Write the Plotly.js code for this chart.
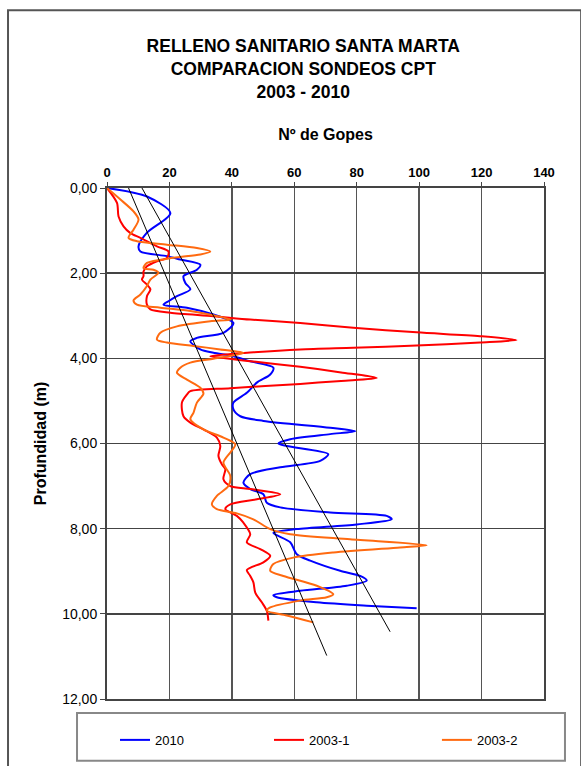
<!DOCTYPE html>
<html>
<head>
<meta charset="utf-8">
<script src="https://cdn.plot.ly/plotly-3.0.1.min.js"></script>
<style>html,body{margin:0;padding:0;background:#fff;}#chart{width:581px;height:766px;}</style>
</head>
<body>
<div id="chart"></div>
<script>
// Series: 2010 (golpes vs depth)
const blueGolpes = [0,12.8,20.3,12.8,10.1,10.7,19.2,23.5,29.9,28.8,24.5,25.1,26.7,22.4,19.7,18.1,25.6,34.1,40.5,37.3,28.8,26.7,29.9,34.1,40.5,45.9,53.3,52.3,48,44.8,40.5,40.5,42.7,50.1,71.5,79.5,71.5,58.7,54.9,57.6,70.9,68.3,55.5,45.9,43.7,45.9,50.1,51.2,55.5,71.5,89.6,91.2,80,60.8,53.3,58.7,60.8,65.1,74.7,81.1,83.2,76.8,61.9,53.3,54.4,67.2,83.2,99.2];
const blueDepth  = [0,0.2,0.59,1.05,1.37,1.49,1.6,1.68,1.8,1.92,2.07,2.23,2.38,2.54,2.66,2.74,2.81,2.97,3.17,3.4,3.52,3.6,3.79,3.87,3.95,4.07,4.22,4.38,4.57,4.81,5.04,5.2,5.36,5.47,5.63,5.71,5.78,5.9,6.0,6.06,6.25,6.41,6.56,6.72,6.92,7.07,7.19,7.39,7.5,7.62,7.7,7.78,7.9,8.01,8.1,8.32,8.6,8.75,8.99,9.11,9.22,9.34,9.46,9.56,9.61,9.73,9.81,9.87];

// Series: 2003-1
const redGolpes = [0,3.2,3.7,5.3,7.5,10.7,16,19.7,19.2,16,12.8,11.7,11.7,11.2,12.8,13.9,12.8,12.8,13.9,20.3,34.1,45.9,61.9,78.9,99.2,119.5,131.2,119.5,99.2,78.9,61.9,47,33.1,38,45,61.9,75,86.4,75,61.9,39.5,26.7,25.6,24,24.5,26.7,30.9,35.2,36.3,35.7,36.8,37.9,37.3,39.5,45.9,55.5,48,39.5,37.9,41.6,43.7,45.9,44.8,49.1,52.3,50.1,44.8,45.9,46.9,47.5,49.6,51.2,51.7];
const redDepth  = [0,0.35,0.67,0.9,1.06,1.17,1.37,1.49,1.64,1.72,1.84,1.96,2.07,2.15,2.27,2.38,2.54,2.74,2.85,2.93,3.01,3.09,3.17,3.28,3.39,3.48,3.57,3.63,3.7,3.75,3.79,3.86,3.95,4.0,4.06,4.2,4.33,4.46,4.53,4.6,4.7,4.77,4.85,5.04,5.36,5.51,5.67,5.86,6.06,6.29,6.49,6.6,6.84,7.0,7.07,7.19,7.31,7.43,7.54,7.7,7.86,8.13,8.32,8.48,8.64,8.79,8.97,9.11,9.26,9.5,9.73,9.93,10.16];

// Series: 2003-2
const orangeGolpes = [0,4.3,8.5,10.1,8.5,6.9,9.6,19.2,28.8,33.1,29.9,21.3,12.8,11.7,14.9,16.5,13.9,12.8,10.7,8.5,9.6,17.1,26.7,34.1,39.5,33.1,22.4,17.1,16,19.2,27.7,36.3,43.7,40.5,34.1,26.7,23.5,22.4,25.6,29.9,30.9,28.8,27.7,26.7,30.9,37.3,41.1,39.5,37.3,39.5,38.9,35.2,33.6,35.2,41.6,46.9,52.3,58.7,77.9,102.4,93.9,72.5,59.7,53.3,52.3,56.5,67.2,72.5,70.4,61.9,52.3,51.2,57.6,66.1];
const orangeDepth  = [0,0.27,0.55,0.74,0.98,1.17,1.25,1.33,1.41,1.49,1.56,1.64,1.76,1.88,1.92,1.99,2.15,2.3,2.5,2.64,2.74,2.81,2.89,2.99,3.09,3.13,3.25,3.4,3.56,3.63,3.71,3.79,3.87,3.93,4.01,4.1,4.22,4.34,4.5,4.69,4.83,5.04,5.28,5.43,5.67,5.86,6.02,6.21,6.45,6.76,7.0,7.23,7.43,7.54,7.64,7.78,8.01,8.13,8.25,8.39,8.44,8.56,8.68,8.83,8.99,9.11,9.34,9.54,9.61,9.69,9.85,9.93,10.04,10.2];

// Trend lines (straight references)
const trendAGolpes = [6.9, 70.4];
const trendADepth  = [0, 10.98];
const trendBGolpes = [11.2, 90.7];
const trendBDepth  = [0, 10.42];

const xTicks = [0,20,40,60,80,100,120,140];
const yTicks = [0,2,4,6,8,10,12];

const seriesNames = ['2010','2003-1','2003-2'];
const seriesColors = ['#0000FF','#FF0000','#FF6A10'];

const FONT = 'Liberation Sans, Arial, sans-serif';

const traces = [
  {x: blueGolpes, y: blueDepth, name: seriesNames[0], legend:'legend', mode:'lines', line:{color:seriesColors[0], width:2, shape:'spline', smoothing:0.8}},
  {x: redGolpes, y: redDepth, name: seriesNames[1], legend:'legend2', mode:'lines', line:{color:seriesColors[1], width:2, shape:'spline', smoothing:0.8}},
  {x: orangeGolpes, y: orangeDepth, name: seriesNames[2], legend:'legend3', mode:'lines', line:{color:seriesColors[2], width:2, shape:'spline', smoothing:0.8}},
  {x: trendAGolpes, y: trendADepth, mode:'lines', showlegend:false, hoverinfo:'skip', line:{color:'#000', width:1}},
  {x: trendBGolpes, y: trendBDepth, mode:'lines', showlegend:false, hoverinfo:'skip', line:{color:'#000', width:1}}
];

function leg(x){
  return {orientation:'h', x:x, xanchor:'left', y:-0.078, yanchor:'middle',
    font:{family:FONT, size:13, color:'#000'}, bgcolor:'rgba(0,0,0,0)', borderwidth:0};
}

const layout = {
  width: 581, height: 766,
  margin: {l:107, r:37, t:188, b:66},
  paper_bgcolor:'#fff', plot_bgcolor:'#fff',
  separators: ',.',
  font: {family: FONT, color:'#000', size:12},
  title: {
    text: '<b>RELLENO SANITARIO SANTA MARTA<br>COMPARACION SONDEOS CPT<br>2003 - 2010</b>',
    font: {family: FONT, size:17.5, color:'#000'},
    x: 0.522, xanchor:'center', xref:'container',
    y: 0.932, yanchor:'middle', yref:'container'
  },
  xaxis: {
    side:'top', range:[0,140], tickvals:xTicks, ticktext:xTicks.map(String),
    showgrid:true, gridcolor:'#555', gridwidth:1.5, zeroline:false,
    showline:true, linecolor:'#444', linewidth:2, mirror:true,
    ticks:'outside', ticklen:4, tickcolor:'#444',
    tickfont:{family:FONT, size:13, color:'#000', weight:'bold'},
    title:{text:'<b>Nº de Gopes</b>', font:{family:FONT, size:16, color:'#000'}, standoff:20},
    fixedrange:true
  },
  yaxis: {
    range:[12,0], tickvals:yTicks, tickformat:'.2f',
    showgrid:true, gridcolor:'#444', gridwidth:1.5, zeroline:false,
    showline:true, linecolor:'#444', linewidth:2, mirror:true,
    ticks:'outside', ticklen:5, tickcolor:'#444',
    tickfont:{family:FONT, size:14, color:'#000'},
    title:{text:'<b>Profundidad (m)</b>', font:{family:FONT, size:16, color:'#000'}, standoff:12},
    fixedrange:true
  },
  showlegend:true,
  legend: leg(0.0183),
  legend2: leg(0.3707),
  legend3: leg(0.755),
  shapes:[
    {type:'rect', xref:'paper', yref:'paper', x0:-0.2265, x1:1.085, y0:-0.3, y1:1.3477, line:{color:'#555', width:2}, fillcolor:'rgba(0,0,0,0)', layer:'below'},
    {type:'rect', xref:'paper', yref:'paper', x0:-0.0686, x1:1.048, y0:-0.121, y1:-0.0273, line:{color:'#888', width:2}, fillcolor:'rgba(0,0,0,0)'}
  ]
};

Plotly.newPlot('chart', traces, layout, {displayModeBar:false, staticPlot:true});
</script>
</body>
</html>
